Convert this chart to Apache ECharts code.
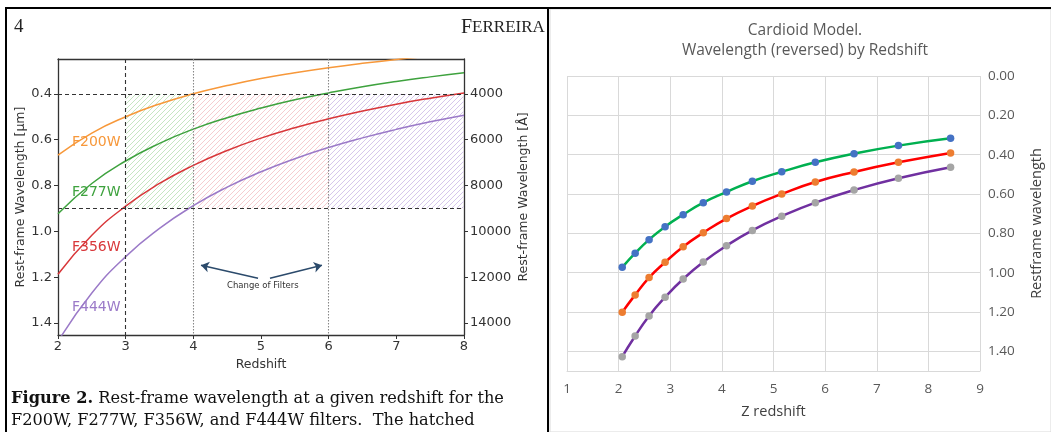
<!DOCTYPE html>
<html>
<head>
<meta charset="utf-8">
<script src="https://cdn.jsdelivr.net/npm/echarts@6/dist/echarts.min.js"></script>
<style>
  html, body { margin: 0; padding: 0; background: #fff; }
  #chart { width: 1051px; height: 432px; }
</style>
</head>
<body>
<div id="chart"></div>
<script>
// left panel: rest-frame wavelength per filter (µm)
var leftZ = [2, 2.5, 3, 3.5, 4, 4.5, 5, 5.5, 6, 6.5, 7, 7.5, 8];
var f200 = [0.667, 0.571, 0.500, 0.444, 0.400, 0.364, 0.333, 0.308, 0.286, 0.267, 0.250, 0.235, 0.222];
var f277 = [0.923, 0.791, 0.693, 0.616, 0.554, 0.504, 0.462, 0.426, 0.396, 0.369, 0.346, 0.326, 0.308];
var f356 = [1.187, 1.017, 0.890, 0.791, 0.712, 0.647, 0.593, 0.548, 0.509, 0.475, 0.445, 0.419, 0.396];
var f444 = [1.480, 1.269, 1.110, 0.987, 0.888, 0.807, 0.740, 0.683, 0.634, 0.592, 0.555, 0.522, 0.493];
var umTicks = [0.4, 0.6, 0.8, 1.0, 1.2, 1.4];
var angTicks = [4000, 6000, 8000, 10000, 12000, 14000];
// hatched boxes: [z from, µm from, z to, µm to]
var hatchAreas = [
  [3, 0.4, 4, 0.9],
  [4, 0.4, 8, 0.9],
  [6, 0.4, 8, 0.9]
];
// "change of filters" arrows, [tail, head] in redshift / µm
var arrows = [
  [[4.956, 1.204], [4.113, 1.148]],
  [[5.133, 1.204], [5.901, 1.148]]
];

// right panel: cardioid model
var rightZ = [2.07, 2.32, 2.59, 2.90, 3.25, 3.64, 4.09, 4.59, 5.16, 5.81, 6.56, 7.42, 8.43];
var greenW = [0.973, 0.901, 0.832, 0.766, 0.705, 0.644, 0.590, 0.535, 0.487, 0.439, 0.395, 0.354, 0.317];
var redW = [1.201, 1.113, 1.025, 0.947, 0.868, 0.797, 0.725, 0.661, 0.600, 0.539, 0.488, 0.439, 0.391];
var purpleW = [1.427, 1.322, 1.220, 1.125, 1.032, 0.946, 0.863, 0.785, 0.713, 0.644, 0.580, 0.520, 0.464];

var hatchColors = ['#bfe2bb', '#f4c6cb', '#d3c6ee'];

function pairs(xs, ys) {
  return xs.map(function (x, i) { return [x, ys[i]]; });
}

var sans = 'DejaVu Sans';
var serif = 'Liberation Serif';
var capSerif = 'DejaVu Serif';
var excel = 'Open Sans';

var chart = echarts.init(document.getElementById('chart'));

var leftLine = function (name, data, color) {
  return {
    name: name, type: 'line', xAxisIndex: 0, yAxisIndex: 0,
    data: pairs(leftZ, data), smooth: true, showSymbol: false,
    lineStyle: { color: color, width: 1.5 }, clip: true, silent: true, z: 3
  };
};

var s200 = leftLine('F200W', f200, '#f7983a');
var s277 = leftLine('F277W', f277, '#3ea23e');
var s356 = leftLine('F356W', f356, '#d8373a');
var s444 = leftLine('F444W', f444, '#9b7ac8');

s200.markLine = {
  silent: true, symbol: 'none', label: { show: false },
  lineStyle: { color: '#333', type: [4, 3], width: 1.1 },
  data: [
    { yAxis: 0.4 },
    { yAxis: 0.9 },
    { xAxis: 3 },
    { xAxis: 4, lineStyle: { color: '#888', type: [1.5, 1.5], width: 1.1 } },
    { xAxis: 6, lineStyle: { color: '#888', type: [1.5, 1.5], width: 1.1 } }
  ]
};
s444.markLine = {
  silent: true, symbol: ['none', 'arrow'], symbolSize: 8, label: { show: false },
  lineStyle: { color: '#2b4a6b', type: 'solid', width: 1.5 },
  data: arrows.map(function (a) { return [{ coord: a[0] }, { coord: a[1] }]; })
};

// diagonal hatching inside each box, lines x + y = const every 5px
var hatchSeries = {
  type: 'custom', xAxisIndex: 0, yAxisIndex: 0, silent: true, z: 1,
  data: hatchAreas,
  renderItem: function (params, api) {
    var p0 = api.coord([api.value(0), api.value(1)]);
    var p1 = api.coord([api.value(2), api.value(3)]);
    var x0 = Math.min(p0[0], p1[0]), x1 = Math.max(p0[0], p1[0]);
    var y0 = Math.min(p0[1], p1[1]), y1 = Math.max(p0[1], p1[1]);
    var step = 5;
    var kids = [];
    var cStart = Math.ceil((x0 + y0) / step) * step;
    for (var c = cStart; c <= x1 + y1; c += step) {
      var xa = Math.max(x0, c - y1), xb = Math.min(x1, c - y0);
      if (xb <= xa) continue;
      kids.push({
        type: 'line',
        shape: { x1: xa, y1: c - xa, x2: xb, y2: c - xb },
        style: { stroke: hatchColors[params.dataIndex], lineWidth: 0.9 }
      });
    }
    return { type: 'group', children: kids };
  }
};

var rightLine = function (name, data, lineColor, dotColor) {
  return {
    name: name, type: 'line', xAxisIndex: 2, yAxisIndex: 2,
    data: pairs(rightZ, data), smooth: true,
    symbol: 'circle', symbolSize: 7.5,
    itemStyle: { color: dotColor },
    lineStyle: { color: lineColor, width: 2.5 }, z: 4
  };
};

var option = {
  backgroundColor: '#fff',
  animation: false,
  title: {
    text: 'Cardioid Model.\nWavelength (reversed) by Redshift',
    left: 800, top: 16, textAlign: 'center',
    textStyle: { fontFamily: excel, fontSize: 15.5, fontWeight: 'normal', color: '#595959', lineHeight: 20 }
  },
  grid: [
    { left: 58, top: 59, width: 406, height: 276 },
    { left: 567, top: 76, width: 413, height: 295 }
  ],
  xAxis: [
    {
      gridIndex: 0, type: 'value', min: 2, max: 8, interval: 1,
      axisLine: { onZero: false, lineStyle: { color: '#333', width: 1.3 } },
      axisTick: { show: true, length: 4, lineStyle: { color: '#333' } },
      axisLabel: { color: '#333', fontFamily: sans, fontSize: 13, margin: 5 },
      splitLine: { show: false },
      name: 'Redshift', nameLocation: 'middle', nameGap: 19,
      nameTextStyle: { color: '#333', fontFamily: sans, fontSize: 12.5 }
    },
    {
      gridIndex: 0, type: 'value', min: 2, max: 8, position: 'top',
      axisLine: { onZero: false, lineStyle: { color: '#333', width: 1.3 } },
      axisTick: { show: false }, axisLabel: { show: false }, splitLine: { show: false }
    },
    {
      gridIndex: 1, type: 'value', min: 1, max: 9, interval: 1,
      axisLine: { show: true, onZero: false, lineStyle: { color: '#d9d9d9' } },
      axisTick: { show: false },
      axisLabel: { color: '#595959', fontFamily: excel, fontSize: 13.5, margin: 11 },
      splitLine: { show: true, lineStyle: { color: '#d9d9d9' } },
      name: 'Z redshift', nameLocation: 'middle', nameGap: 33,
      nameTextStyle: { color: '#404040', fontFamily: excel, fontSize: 14.5 }
    }
  ],
  yAxis: [
    {
      gridIndex: 0, type: 'value', inverse: true, min: 0.248, max: 1.452,
      axisLine: { show: true, onZero: false, lineStyle: { color: '#333', width: 1.3 } },
      axisTick: { show: true, length: 4, customValues: umTicks, lineStyle: { color: '#333' } },
      axisLabel: {
        customValues: umTicks, color: '#333', fontFamily: sans, fontSize: 13, margin: 6,
        formatter: function (v) { return v.toFixed(1); }
      },
      splitLine: { show: false },
      name: 'Rest-frame Wavelength [μm]', nameLocation: 'middle', nameGap: 30, nameRotate: 90,
      nameTextStyle: { color: '#333', fontFamily: sans, fontSize: 12.5 }
    },
    {
      gridIndex: 0, type: 'value', inverse: true, min: 2480, max: 14520, position: 'right',
      axisLine: { show: true, onZero: false, lineStyle: { color: '#333', width: 1.3 } },
      axisTick: { show: true, length: 4, customValues: angTicks, lineStyle: { color: '#333' } },
      axisLabel: {
        customValues: angTicks, color: '#333', fontFamily: sans, fontSize: 13, margin: 6,
        formatter: function (v) { return String(v); }
      },
      splitLine: { show: false },
      name: 'Rest-frame Wavelength [Å]', nameLocation: 'middle', nameGap: 53, nameRotate: 90,
      nameTextStyle: { color: '#333', fontFamily: sans, fontSize: 12.5 }
    },
    {
      gridIndex: 1, type: 'value', inverse: true, min: 0, max: 1.5, interval: 0.2, position: 'right',
      axisLine: { show: false }, axisTick: { show: false },
      axisLabel: {
        color: '#595959', fontFamily: excel, fontSize: 13.5, margin: 8, showMaxLabel: false,
        formatter: function (v) { return v.toFixed(2); }
      },
      splitLine: { show: true, lineStyle: { color: '#d9d9d9' } },
      name: 'Restframe wavelength', nameLocation: 'middle', nameGap: 49, nameRotate: 90,
      nameTextStyle: { color: '#404040', fontFamily: excel, fontSize: 14.5 }
    }
  ],
  graphic: [
    { type: 'text', z: -20, left: 14, top: 18, style: { text: '4', font: '19px "' + serif + '"', fill: '#222' } },
    {
      type: 'text', z: -20, left: 461, top: 18,
      style: {
        text: '{a|F}{b|ERREIRA}', fill: '#222',
        rich: {
          a: { fontFamily: serif, fontSize: 20, fill: '#222' },
          b: { fontFamily: serif, fontSize: 17, fill: '#222' }
        }
      }
    },
    { type: 'rect', z: -10, shape: { x: 550, y: 9, width: 501, height: 423 }, style: { fill: '#fff', stroke: '#d9d9d9', lineWidth: 1 } },
    {
      type: 'text', z: 10, left: 11, top: 388,
      style: {
        text: '{b|Figure 2.} Rest-frame wavelength at a given redshift for the\nF200W, F277W, F356W, and F444W filters.  The hatched',
        fontFamily: capSerif, fontSize: 16.2, fill: '#111', lineHeight: 22,
        rich: { b: { fontFamily: capSerif, fontSize: 16.2, fontWeight: 'bold', fill: '#111' } }
      }
    },
    { type: 'text', z: 10, left: 72, top: 135, style: { text: 'F200W', fontFamily: sans, fontSize: 14, fill: '#f7983a' } },
    { type: 'text', z: 10, left: 72, top: 185, style: { text: 'F277W', fontFamily: sans, fontSize: 14, fill: '#3ea23e' } },
    { type: 'text', z: 10, left: 72, top: 240, style: { text: 'F356W', fontFamily: sans, fontSize: 14, fill: '#d8373a' } },
    { type: 'text', z: 10, left: 72, top: 300, style: { text: 'F444W', fontFamily: sans, fontSize: 14, fill: '#9b7ac8' } },
    { type: 'text', z: 10, left: 227, top: 281, style: { text: 'Change of Filters', fontFamily: sans, fontSize: 8.5, fill: '#333' } },
    // page frame
    { type: 'rect', z: 100, shape: { x: 5, y: 7, width: 1046, height: 2 }, style: { fill: '#000' } },
    { type: 'rect', z: 100, shape: { x: 5, y: 7, width: 2, height: 425 }, style: { fill: '#000' } },
    { type: 'rect', z: 100, shape: { x: 547, y: 7, width: 2, height: 425 }, style: { fill: '#000' } }
  ],
  series: [
    hatchSeries,
    s277, s356, s444, s200,
    rightLine('F277W model', greenW, '#00b050', '#4472c4'),
    rightLine('F356W model', redW, '#ff0000', '#ed7d31'),
    rightLine('F444W model', purpleW, '#7030a0', '#a5a5a5')
  ]
};

chart.setOption(option);
</script>
</body>
</html>
